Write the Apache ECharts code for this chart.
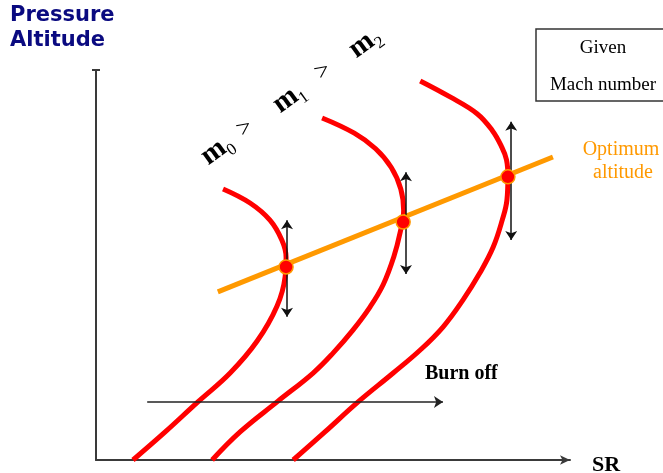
<!DOCTYPE html>
<html>
<head>
<meta charset="utf-8">
<script src="https://cdn.jsdelivr.net/npm/echarts@6/dist/echarts.min.js"></script>
<style>
  html, body { margin: 0; padding: 0; background: #ffffff; }
  #chart { width: 663px; height: 473px; }
</style>
</head>
<body>
<div id="chart"></div>
<script>
// ---- Data (SR on x, pressure altitude on y; arbitrary 0-100 units) ----
const curveM0 = [
  [7.8, 0], [14.6, 7.2], [21.5, 14.9], [28.3, 22.3],
  [34.0, 30.5], [38.2, 39.5], [39.9, 47.0], [40.1, 52.0],
  [39.2, 56.4], [36.7, 61.5], [32.5, 65.9], [26.8, 69.5]
];
const curveM1 = [
  [24.5, 0], [30.4, 7.2], [38.2, 14.9], [45.8, 22.3], [50.0, 27.4],
  [54.2, 33.3], [57.8, 39.2], [60.6, 45.0], [62.8, 52.0],
  [64.2, 58.5], [64.9, 64.0], [64.3, 69.5], [62.3, 75.0],
  [59.0, 79.8], [54.5, 83.8], [47.7, 87.7]
];
const curveM2 = [
  [41.6, 0], [48.3, 7.2], [55.3, 14.9], [62.7, 22.3], [68.4, 28.2],
  [73.2, 34.1], [77.4, 41.0], [81.0, 48.0], [83.8, 54.6], [85.7, 61.5],
  [86.7, 66.7], [86.9, 72.6], [86.6, 77.0], [85.5, 80.5], [83.6, 84.5],
  [80.4, 88.8], [74.7, 93.1], [68.4, 97.2]
];
const optimumLine = [[25.7, 43.1], [96.4, 77.7]];
const optimumPoints = [[40.1, 49.5], [64.8, 61.0], [86.9, 72.6]];
const altitudeArrows = [
  [[40.3, 61.5], [40.3, 36.7]],
  [[65.4, 73.8], [65.4, 47.7]],
  [[87.6, 86.7], [87.6, 56.4]]
];
const burnOffArrow = [[10.8, 14.9], [73.2, 14.9]];

const yTitle = ['Pressure', 'Altitude'];
const xTitle = 'SR';
const boxLines = ['Given', 'Mach number'];
const optimumText = ['Optimum', 'altitude'];
const burnOffText = 'Burn off';
const massSub = ['0', '1', '2'];

const RED = '#ff0000';
const ORANGE = '#ff9900';
const AXIS = '#3a3a3a';

const chart = echarts.init(document.getElementById('chart'), null, { renderer: 'canvas' });

function redCurve(name, data) {
  return {
    name: name, type: 'line', data: data, smooth: 0.4, showSymbol: false,
    lineStyle: { color: RED, width: 5 }, z: 2, silent: true
  };
}

const rot = 36 * Math.PI / 180;
const mRich = {
  m: { fontFamily: 'Liberation Serif', fontWeight: 'bold', fontSize: 29, color: '#000', padding: [0, 0, 3, 0] },
  s: { fontFamily: 'Liberation Serif', fontWeight: 'normal', fontSize: 17, color: '#000', verticalAlign: 'bottom' }
};
function mLabel(x, y, sub) {
  return {
    type: 'text', x: x, y: y, rotation: rot,
    style: { text: '{m|m}{s|' + sub + '}', rich: mRich, align: 'center', verticalAlign: 'middle' }
  };
}
function gtLabel(x, y) {
  return {
    type: 'text', x: x, y: y, rotation: rot,
    style: { text: '>', fontFamily: 'Liberation Serif', fontSize: 25, fill: '#000', align: 'center', verticalAlign: 'middle' }
  };
}
function txt(x, y, text, font, size, weight, color, align) {
  return {
    type: 'text', x: x, y: y,
    style: { text: text, fontFamily: font, fontSize: size, fontWeight: weight, fill: color, align: align || 'left', verticalAlign: 'middle' }
  };
}

const option = {
  animation: false,
  backgroundColor: '#ffffff',
  grid: { left: 96, right: 93, top: 70, bottom: 13 },
  xAxis: {
    type: 'value', min: 0, max: 100,
    axisLine: { show: true, onZero: false, symbol: ['none', 'arrow'], symbolSize: [7, 10], lineStyle: { color: AXIS, width: 2 } },
    axisTick: { show: false }, axisLabel: { show: false }, splitLine: { show: false }
  },
  yAxis: {
    type: 'value', min: 0, max: 100,
    axisLine: { show: true, onZero: false, symbol: ['none', 'rect'], symbolSize: [8, 2], lineStyle: { color: AXIS, width: 2 } },
    axisTick: { show: false }, axisLabel: { show: false }, splitLine: { show: false }
  },
  series: [
    redCurve('m0', curveM0),
    redCurve('m1', curveM1),
    redCurve('m2', curveM2),
    {
      name: 'Optimum altitude', type: 'line', data: optimumLine, showSymbol: false,
      lineStyle: { color: ORANGE, width: 5 }, z: 3, silent: true
    },
    {
      name: 'arrows', type: 'lines', coordinateSystem: 'cartesian2d', z: 4,
      symbol: ['arrow', 'arrow'], symbolSize: 9,
      lineStyle: { color: '#111', width: 1.5, opacity: 1, curveness: 0 },
      data: altitudeArrows.map(c => ({ coords: c })), silent: true
    },
    {
      name: 'burnoff', type: 'lines', coordinateSystem: 'cartesian2d', z: 4,
      symbol: ['none', 'arrow'], symbolSize: 9,
      lineStyle: { color: '#222', width: 1.5, opacity: 1, curveness: 0 },
      data: [{ coords: burnOffArrow }], silent: true
    },
    {
      name: 'optimum points', type: 'scatter', data: optimumPoints, symbolSize: 14, z: 5,
      itemStyle: { color: RED, borderColor: ORANGE, borderWidth: 1.5, opacity: 1 }, silent: true
    }
  ],
  graphic: [
    txt(10, 16, yTitle[0], 'DejaVu Sans', 21, 'bold', '#0a0a80'),
    txt(10, 41, yTitle[1], 'DejaVu Sans', 21, 'bold', '#0a0a80'),
    txt(592, 465, xTitle, 'Liberation Serif', 22, 'bold', '#000'),
    { type: 'rect', shape: { x: 536, y: 29, width: 140, height: 72 }, style: { fill: '#fff', stroke: '#333', lineWidth: 1.5 } },
    txt(603, 48, boxLines[0], 'Liberation Serif', 19, 'normal', '#000', 'center'),
    txt(603, 85, boxLines[1], 'Liberation Serif', 19, 'normal', '#000', 'center'),
    txt(621, 150, optimumText[0], 'Liberation Serif', 20, 'normal', ORANGE, 'center'),
    txt(623, 173, optimumText[1], 'Liberation Serif', 20, 'normal', ORANGE, 'center'),
    txt(425, 374, burnOffText, 'Liberation Serif', 20, 'bold', '#000'),
    mLabel(218, 151, massSub[0]),
    gtLabel(245, 128),
    mLabel(290, 99, massSub[1]),
    gtLabel(323, 71),
    mLabel(366, 44, massSub[2])
  ]
};
chart.setOption(option);
</script>
</body>
</html>
